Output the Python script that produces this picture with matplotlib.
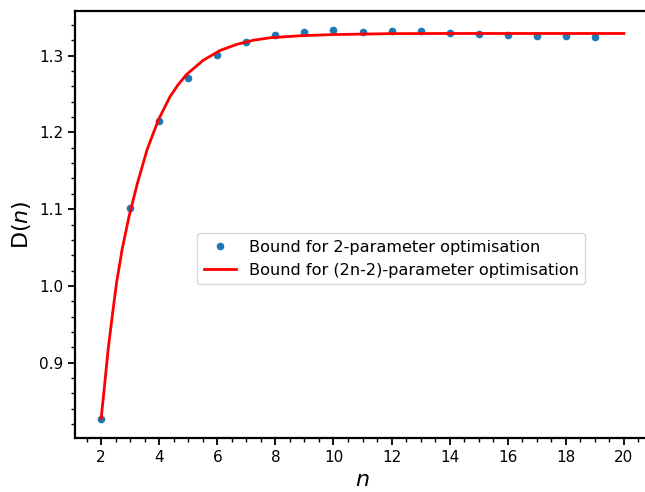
import matplotlib.pyplot as plt
from matplotlib.ticker import MultipleLocator

# Bound values from the 2-parameter optimisation (dots)
n_points = [2, 3, 4, 5, 6, 7, 8, 9, 10, 11, 12, 13, 14, 15, 16, 17, 18, 19]
d_points = [0.827, 1.101, 1.215, 1.271, 1.301, 1.318, 1.327, 1.331, 1.333, 1.331,
            1.3325, 1.3317, 1.330, 1.3286, 1.327, 1.326, 1.3252, 1.3243]

# (2n-2)-parameter bound
n_curve = [2.0, 2.127, 2.24, 2.38, 2.53, 2.72, 2.96, 3.25, 3.58, 3.97, 4.37, 4.65,
           4.94, 5.52, 6.09, 6.67, 7.24, 7.82, 8.85, 10.0, 12.0, 14.0, 20.0]
d_curve = [0.827, 0.8734, 0.9168, 0.960, 1.0037, 1.047, 1.0904, 1.1339, 1.1772,
           1.2163, 1.2465, 1.2622, 1.2755, 1.2942, 1.3068, 1.3148, 1.3202, 1.3234,
           1.326, 1.3276, 1.3288, 1.329, 1.329]

fig = plt.figure(figsize=(6.45, 4.92), dpi=100)
ax = fig.add_axes([75 / 645, 54 / 492, 575 / 645, 427 / 492])

ax.plot(n_points, d_points, 'o', color='#1f77b4', markersize=4.5,
        label='Bound for 2-parameter optimisation')
ax.plot(n_curve, d_curve, '-', color='red', linewidth=2,
        label='Bound for (2n-2)-parameter optimisation')

ax.set_xlabel('$n$', fontsize=16)
ax.set_ylabel('D($n$)', fontsize=16)
ax.xaxis.set_major_locator(MultipleLocator(2))
ax.xaxis.set_minor_locator(MultipleLocator(0.5))
ax.yaxis.set_major_locator(MultipleLocator(0.1))
ax.yaxis.set_minor_locator(MultipleLocator(0.02))
ax.tick_params(which='major', labelsize=11, length=5, width=1.3)
ax.tick_params(which='minor', length=3, width=1.0)
for s in ax.spines.values():
    s.set_linewidth(1.6)

ax.legend(loc='center', bbox_to_anchor=(0.55, 0.42), fontsize=11.6)

fig.savefig('out.png', dpi=100)
